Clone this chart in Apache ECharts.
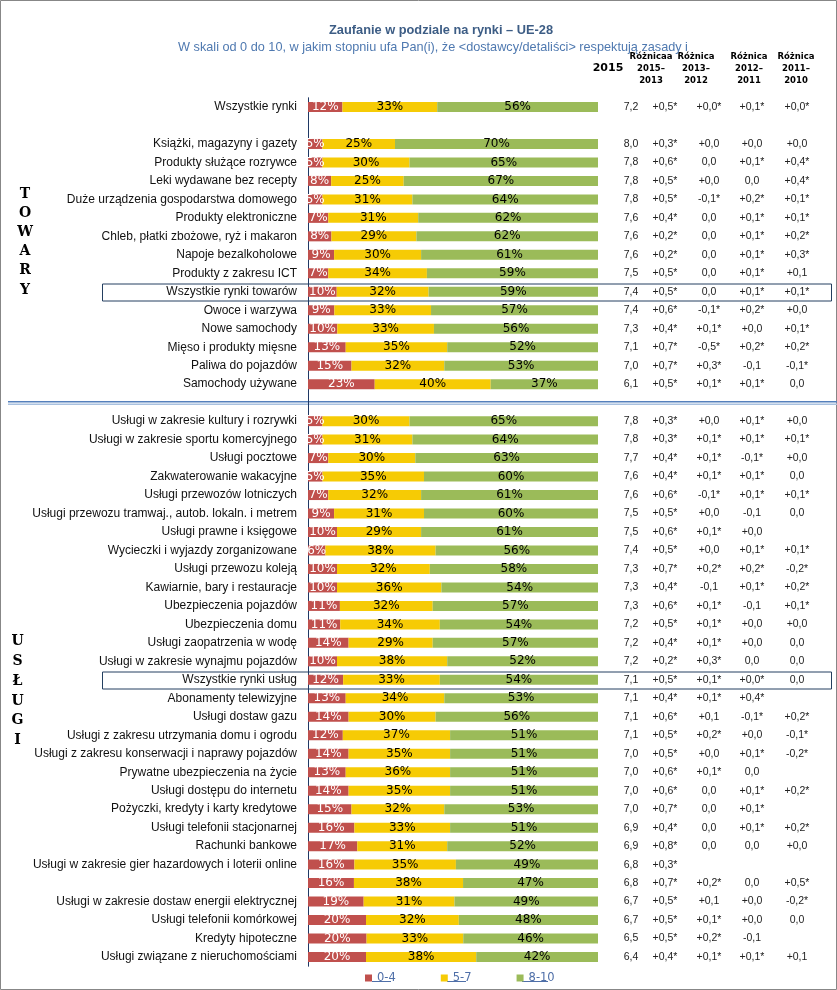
<!DOCTYPE html>
<html><head><meta charset="utf-8">
<script src="https://cdn.jsdelivr.net/npm/echarts@6/dist/echarts.min.js"></script>
<style>html,body{margin:0;padding:0;background:#fff}#c{width:837px;height:990px}</style>
</head><body><div id="c"></div>
<script>
const categories = [
"Wszystkie rynki","",
"Książki, magazyny i gazety","Produkty służące rozrywce","Leki wydawane bez recepty",
"Duże urządzenia gospodarstwa domowego","Produkty elektroniczne","Chleb, płatki zbożowe, ryż i makaron",
"Napoje bezalkoholowe","Produkty z zakresu ICT","Wszystkie rynki towarów","Owoce i warzywa",
"Nowe samochody","Mięso i produkty mięsne","Paliwa do pojazdów","Samochody używane","",
"Usługi w zakresie kultury i rozrywki","Usługi w zakresie sportu komercyjnego","Usługi pocztowe",
"Zakwaterowanie wakacyjne","Usługi przewozów lotniczych","Usługi przewozu tramwaj., autob. lokaln. i metrem",
"Usługi prawne i księgowe","Wycieczki i wyjazdy zorganizowane","Usługi przewozu koleją",
"Kawiarnie, bary i restauracje","Ubezpieczenia pojazdów","Ubezpieczenia domu","Usługi zaopatrzenia w wodę",
"Usługi w zakresie wynajmu pojazdów","Wszystkie rynki usług","Abonamenty telewizyjne","Usługi dostaw gazu",
"Usługi z zakresu utrzymania domu i ogrodu","Usługi z zakresu konserwacji i naprawy pojazdów",
"Prywatne ubezpieczenia na życie","Usługi dostępu do internetu","Pożyczki, kredyty i karty kredytowe",
"Usługi telefonii stacjonarnej","Rachunki bankowe","Usługi w zakresie gier hazardowych i loterii online","",
"Usługi w zakresie dostaw energii elektrycznej","Usługi telefonii komórkowej","Kredyty hipoteczne",
"Usługi związane z nieruchomościami"];

const seriesNames = ["0-4","5-7","8-10"];
const share04 = [12,null,5,5,8,5,7,8,9,7,10,9,10,13,15,23,null,
  5,5,7,5,7,9,10,6,10,10,11,11,14,10,12,13,14,12,14,13,14,15,16,17,16,16,19,20,20,20];
const share57 = [33,null,25,30,25,31,31,29,30,34,32,33,33,35,32,40,null,
  30,31,30,35,32,31,29,38,32,36,32,34,29,38,33,34,30,37,35,36,35,32,33,31,35,38,31,32,33,38];
const share810 = [56,null,70,65,67,64,62,62,61,59,59,57,56,52,53,37,null,
  65,64,63,60,61,60,61,56,58,54,57,54,57,52,54,53,56,51,51,51,51,53,51,52,49,47,49,48,46,42];

const score2015 = ["7,2","","8,0","7,8","7,8","7,8","7,6","7,6","7,6","7,5","7,4","7,4","7,3","7,1","7,0","6,1","",
  "7,8","7,8","7,7","7,6","7,6","7,5","7,5","7,4","7,3","7,3","7,3","7,2","7,2","7,2","7,1","7,1","7,1","7,1","7,0","7,0","7,0","7,0","6,9","6,9","6,8","6,8","6,7","6,7","6,5","6,4"];
const diff2015_2013 = ["+0,5*","","+0,3*","+0,6*","+0,5*","+0,5*","+0,4*","+0,2*","+0,2*","+0,5*","+0,5*","+0,6*","+0,4*","+0,7*","+0,7*","+0,5*","",
  "+0,3*","+0,3*","+0,4*","+0,4*","+0,6*","+0,5*","+0,6*","+0,5*","+0,7*","+0,4*","+0,6*","+0,5*","+0,4*","+0,2*","+0,5*","+0,4*","+0,6*","+0,5*","+0,5*","+0,6*","+0,6*","+0,7*","+0,4*","+0,8*","+0,3*","+0,7*","+0,5*","+0,5*","+0,5*","+0,4*"];
const diff2013_2012 = ["+0,0*","","+0,0","0,0","+0,0","-0,1*","0,0","0,0","0,0","0,0","0,0","-0,1*","+0,1*","-0,5*","+0,3*","+0,1*","",
  "+0,0","+0,1*","+0,1*","+0,1*","-0,1*","+0,0","+0,1*","+0,0","+0,2*","-0,1","+0,1*","+0,1*","+0,1*","+0,3*","+0,1*","+0,1*","+0,1","+0,2*","+0,0","+0,1*","0,0","0,0","0,0","0,0","","+0,2*","+0,1","+0,1*","+0,2*","+0,1*"];
const diff2012_2011 = ["+0,1*","","+0,0","+0,1*","0,0","+0,2*","+0,1*","+0,1*","+0,1*","+0,1*","+0,1*","+0,2*","+0,0","+0,2*","-0,1","+0,1*","",
  "+0,1*","+0,1*","-0,1*","+0,1*","+0,1*","-0,1","+0,0","+0,1*","+0,2*","+0,1*","-0,1","+0,0","+0,0","0,0","+0,0*","+0,4*","-0,1*","+0,0","+0,1*","0,0","+0,1*","+0,1*","+0,1*","0,0","","0,0","+0,0","+0,0","-0,1","+0,1*"];
const diff2011_2010 = ["+0,0*","","+0,0","+0,4*","+0,4*","+0,1*","+0,1*","+0,2*","+0,3*","+0,1","+0,1*","+0,0","+0,1*","+0,2*","-0,1*","0,0","",
  "+0,0","+0,1*","+0,0","0,0","+0,1*","0,0","","+0,1*","-0,2*","+0,2*","+0,1*","+0,0","0,0","0,0","0,0","","+0,2*","-0,1*","-0,2*","","+0,2*","","+0,2*","+0,0","","+0,5*","-0,2*","0,0","","+0,1"];
const tableColumns = [score2015, diff2015_2013, diff2013_2012, diff2012_2011, diff2011_2010];
const tableHeaders = ["Różnicaa\n2015–\n2013","Różnica\n2013–\n2012","Różnica\n2012–\n2011","Różnica\n2011–\n2010"];

// layout
const GRID_LEFT = 308, GRID_RIGHT_X = 598;
const colCenters = [631, 665, 709, 752, 797];
const headerCenters = [651, 696, 749, 796];
const colors = ['#C0504D', '#F6CB05', '#9BBB59'];

const totals = share04.map((v, i) => v == null ? null : v + share57[i] + share810[i]);
const norm = arr => arr.map((v, i) => v == null ? '-' : { value: v / totals[i] * 100, raw: v });
const shares = [share04, share57, share810];

const chart = echarts.init(document.getElementById('c'));

const tableAxes = tableColumns.map((col, k) => ({
  type: 'category', gridIndex: 0, position: 'right', inverse: true,
  offset: colCenters[k] - GRID_RIGHT_X, data: categories,
  axisLine: { show: false }, axisTick: { show: false }, splitLine: { show: false },
  axisLabel: { interval: 0, margin: 0, align: 'center', fontSize: 10.5,
    fontFamily: 'Liberation Sans', color: '#222', formatter: (v, i) => col[i] }
}));

chart.setOption({
  animation: false,
  backgroundColor: '#fff',
  title: [
    { text: 'Zaufanie w podziale na rynki – UE-28', left: 436, top: 19, textAlign: 'center',
      textStyle: { fontFamily: 'Liberation Sans', fontSize: 12.8, fontWeight: 'bold', color: '#3D5D85' } },
    { text: 'W skali od 0 do 10, w jakim stopniu ufa Pan(i), że <dostawcy/detaliści> respektują zasady i',
      left: 428, top: 36, textAlign: 'center',
      textStyle: { fontFamily: 'Liberation Sans', fontSize: 12.7, fontWeight: 'normal', color: '#4F79B0' } }
  ],
  legend: {
    data: seriesNames, left: 360, top: 967, itemWidth: 7, itemHeight: 7, itemGap: 45, icon: 'rect',
    textStyle: { fontSize: 11.5, fontFamily: 'DejaVu Sans', color: '#4F6FA8' }
  },
  grid: { left: GRID_LEFT, right: 837 - GRID_RIGHT_X, top: 97.76, bottom: 23.76, containLabel: false },
  xAxis: { type: 'value', min: 0, max: 100, show: false },
  yAxis: [{
    type: 'category', inverse: true, data: categories,
    axisLine: { show: true, lineStyle: { color: '#1F3864', width: 1 } },
    axisTick: { show: false },
    axisLabel: { interval: 0, margin: 11, fontSize: 12, fontFamily: 'Liberation Sans', color: '#111' }
  }].concat(tableAxes),
  series: shares.map((arr, k) => ({
    name: seriesNames[k], type: 'bar', stack: 'total', barWidth: 10, yAxisIndex: 0,
    itemStyle: { color: colors[k] },
    label: {
      show: true, position: 'inside', fontSize: 12, fontFamily: 'DejaVu Sans',
      color: k === 0 ? '#fff' : '#000',
      formatter: p => (p.data && p.data.raw != null) ? p.data.raw + '%' : ''
    },
    data: norm(arr)
  }))
});

const yOf = i => chart.convertToPixel({ yAxisIndex: 0 }, i);
const sepY = yOf(16);
const graphics = [
  { type: 'rect', shape: { x: 0.5, y: 0.5, width: 836, height: 989 }, style: { fill: 'none', stroke: '#878787', lineWidth: 1 }, silent: true },
  { type: 'line', shape: { x1: 8, y1: sepY - 1, x2: 837, y2: sepY - 1 }, style: { stroke: '#5580BC', lineWidth: 1.5 }, silent: true },
  { type: 'line', shape: { x1: 8, y1: sepY + 1.5, x2: 837, y2: sepY + 1.5 }, style: { stroke: '#A9C1DF', lineWidth: 1.5 }, silent: true },
  { type: 'text', x: 608, y: 68, style: { text: '2015', textAlign: 'center', textVerticalAlign: 'middle', font: 'bold 11px "DejaVu Sans"', fill: '#000' } },
  { type: 'text', x: 25, y: 184.4, style: { text: 'T\nO\nW\nA\nR\nY', textAlign: 'center', textVerticalAlign: 'top', lineHeight: 19.2, font: 'bold 14px "DejaVu Serif"', fill: '#000' } },
  { type: 'text', x: 17.5, y: 632, style: { text: 'U\nS\nŁ\nU\nG\nI', textAlign: 'center', textVerticalAlign: 'top', lineHeight: 19.7, font: 'bold 14px "DejaVu Serif"', fill: '#000' } }
];
tableHeaders.forEach((h, k) => graphics.push({
  type: 'text', x: headerCenters[k], y: 50.5,
  style: { text: h, textAlign: 'center', textVerticalAlign: 'top', lineHeight: 12, font: 'bold 8.5px "DejaVu Sans"', fill: '#000' }
}));
[10, 31].forEach(i => {
  const yc = Math.round(yOf(i)) + 0.5;
  graphics.push({ type: 'rect', shape: { x: 102.5, y: yc - 8.5, width: 729, height: 17 }, style: { fill: 'none', stroke: '#243F60', lineWidth: 1 }, silent: true });
});
// legend underlines
[[372, 391], [447, 466], [522, 548]].forEach(([a, b]) => graphics.push({
  type: 'line', shape: { x1: a, y1: 981.5, x2: b, y2: 981.5 }, style: { stroke: '#4F6FA8', lineWidth: 1 }, silent: true
}));
chart.setOption({ graphic: graphics });
</script></body></html>
